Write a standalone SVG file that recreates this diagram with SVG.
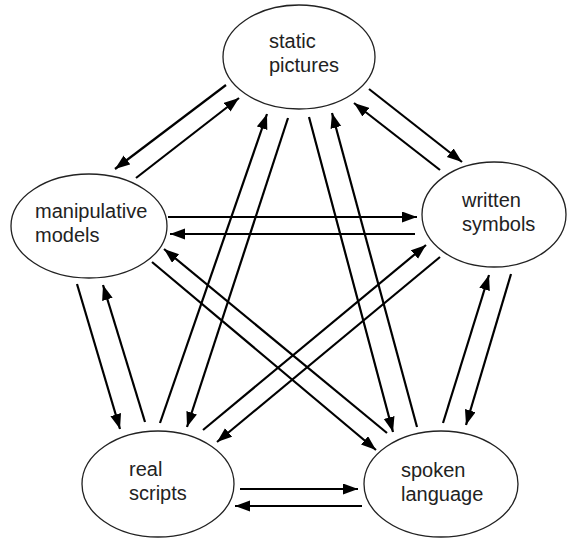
<svg xmlns="http://www.w3.org/2000/svg" width="569" height="540" viewBox="0 0 569 540">
<style>
.node ellipse{fill:#fff;stroke:#222;stroke-width:1.3}
.node text{font-family:"Liberation Sans",Arial,sans-serif;font-size:20px;fill:#222}
.conn line{stroke:#000;stroke-width:2.2;marker-end:url(#ah)}
</style>
<defs>
<marker id="ah" markerUnits="userSpaceOnUse" markerWidth="16" markerHeight="12" refX="15" refY="5.5" orient="auto" viewBox="0 0 16 12">
<path d="M0,0 L15,5.5 L0,11 z" fill="#000"/>
</marker>
</defs>
<rect width="569" height="540" fill="#fff"/>
<g id="connectors" class="conn">
<line x1="226" y1="85" x2="115" y2="169"/>
<line x1="136" y1="178" x2="239" y2="98"/>
<line x1="369" y1="89" x2="462" y2="162"/>
<line x1="440" y1="170" x2="354" y2="103"/>
<line x1="160" y1="423" x2="267" y2="114"/>
<line x1="288" y1="118" x2="187" y2="427"/>
<line x1="309" y1="117" x2="393" y2="432"/>
<line x1="417" y1="427" x2="332" y2="113"/>
<line x1="168" y1="217" x2="417" y2="217"/>
<line x1="415" y1="234" x2="170" y2="234"/>
<line x1="77" y1="284" x2="120" y2="429"/>
<line x1="145" y1="422" x2="103" y2="285"/>
<line x1="152" y1="262" x2="376" y2="450"/>
<line x1="387" y1="433" x2="164" y2="249"/>
<line x1="203" y1="430" x2="426" y2="245"/>
<line x1="440" y1="257" x2="217" y2="442"/>
<line x1="443" y1="423" x2="489" y2="275"/>
<line x1="511" y1="274" x2="466" y2="425"/>
<line x1="240" y1="489" x2="358" y2="489"/>
<line x1="362" y1="506" x2="235" y2="506"/>
</g>
<g id="static-pictures" class="node">
<ellipse cx="299" cy="57" rx="76" ry="52"/>
<text x="269" y="48">static</text>
<text x="269" y="72">pictures</text>
</g>
<g id="manipulative-models" class="node">
<ellipse cx="89" cy="226" rx="78" ry="52"/>
<text x="35" y="218">manipulative</text>
<text x="35" y="242">models</text>
</g>
<g id="written-symbols" class="node">
<ellipse cx="494" cy="214.5" rx="72" ry="52.5"/>
<text x="462" y="207">written</text>
<text x="462" y="231">symbols</text>
</g>
<g id="real-scripts" class="node">
<ellipse cx="158" cy="484" rx="76" ry="53"/>
<text x="129" y="476">real</text>
<text x="129" y="500">scripts</text>
</g>
<g id="spoken-language" class="node">
<ellipse cx="441" cy="484" rx="77" ry="53"/>
<text x="401" y="477">spoken</text>
<text x="401" y="501">language</text>
</g>
</svg>
